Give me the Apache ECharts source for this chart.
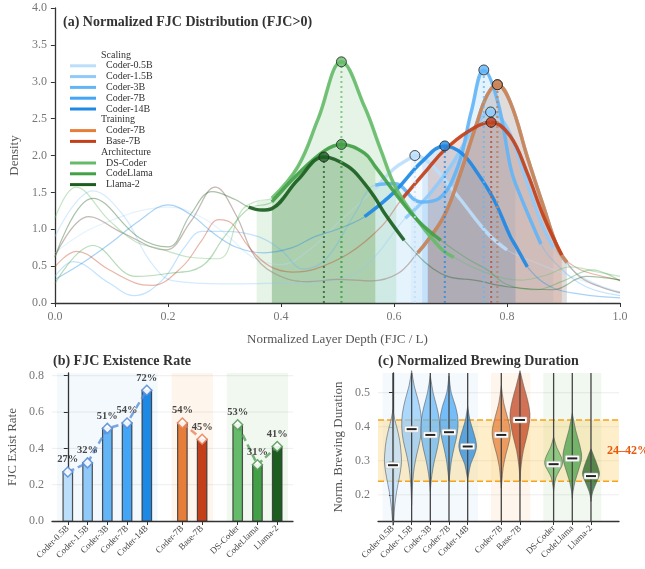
<!DOCTYPE html>
<html><head><meta charset="utf-8">
<script src="https://cdn.jsdelivr.net/npm/echarts@6/dist/echarts.min.js"></script>
<style>html,body{margin:0;padding:0;background:#fff}#chart{width:645px;height:569px}</style>
</head><body><div id="chart"></div>
<script>
// ================= DATA =================
const modelNames = ['Coder-0.5B','Coder-1.5B','Coder-3B','Coder-7B','Coder-14B','Coder-7B','Base-7B','DS-Coder','CodeLlama','Llama-2'];
const groupHeaders = ['Scaling','Training','Architecture'];
const groupOf = [0,0,0,0,0,1,1,2,2,2];

// KDE of normalized FJC depth, key points [x, density]
const kdeCoder05 = [[0,0.68],[0.05,0.95],[0.1,1.12],[0.15,1.25],[0.2,1.3],[0.25,1.2],[0.3,0.95],[0.35,0.62],[0.4,0.52],[0.45,0.72],[0.5,1.08],[0.567,1.55],[0.6,1.82],[0.63,1.97],[0.637,2.0],[0.65,1.97],[0.671,1.84],[0.718,1.4],[0.765,0.95],[0.8,0.72],[0.853,0.54],[0.92,0.34],[1,0.13]];
const kdeCoder15 = [[0,0.9],[0.067,1.52],[0.12,1.2],[0.17,0.55],[0.21,0.3],[0.3,0.26],[0.4,0.27],[0.5,0.32],[0.55,0.5],[0.62,1.15],[0.66,1.45],[0.7,1.85],[0.74,2.35],[0.771,2.59],[0.8,2.38],[0.83,1.75],[0.86,1.1],[0.882,0.75],[0.92,0.42],[0.96,0.25],[1,0.15]];
const kdeCoder3 = [[0,0.36],[0.032,0.56],[0.096,0.27],[0.14,0.1],[0.19,0.31],[0.23,0.76],[0.26,0.97],[0.3,0.97],[0.36,0.9],[0.4,0.72],[0.44,0.46],[0.48,0.6],[0.53,1.2],[0.567,1.6],[0.6,1.62],[0.648,1.37],[0.68,1.42],[0.713,1.85],[0.737,2.6],[0.759,3.16],[0.783,2.75],[0.806,1.85],[0.815,1.62],[0.86,0.8],[0.894,0.48],[0.94,0.22],[1,0.1]];
const kdeCoder7 = [[0,0.63],[0.06,1.17],[0.12,0.95],[0.196,0.72],[0.24,1.1],[0.284,1.57],[0.32,1.2],[0.355,0.62],[0.4,0.36],[0.45,0.29],[0.5,0.32],[0.56,0.3],[0.607,0.4],[0.642,0.68],[0.66,0.85],[0.69,1.2],[0.715,1.7],[0.745,2.4],[0.765,2.82],[0.783,2.96],[0.806,2.72],[0.836,1.98],[0.865,1.3],[0.889,0.76],[0.906,0.55],[0.93,0.35],[0.965,0.22],[1,0.14]];
const kdeCoder14 = [[0,0.32],[0.05,0.55],[0.1,0.82],[0.15,1.12],[0.2,1.33],[0.24,1.2],[0.28,0.95],[0.32,0.76],[0.37,0.68],[0.42,0.75],[0.46,0.9],[0.5,1.0],[0.548,1.17],[0.6,1.5],[0.65,1.92],[0.69,2.13],[0.72,2.03],[0.748,1.76],[0.777,1.4],[0.806,0.9],[0.815,0.78],[0.836,0.49],[0.877,0.22],[0.93,0.12],[1,0.07]];
const kdeBase7 = [[0,0.49],[0.038,0.7],[0.096,0.45],[0.143,0.27],[0.172,0.24],[0.225,0.49],[0.26,0.85],[0.29,1.13],[0.313,1.08],[0.343,0.76],[0.38,0.5],[0.42,0.42],[0.46,0.46],[0.52,0.67],[0.577,1.03],[0.613,1.4],[0.66,1.82],[0.689,2.07],[0.73,2.32],[0.772,2.45],[0.806,2.26],[0.836,1.76],[0.865,1.17],[0.897,0.65],[0.93,0.45],[0.96,0.38],[1,0.31]];
const kdeDSCoder = [[0,1.15],[0.037,1.57],[0.096,1.12],[0.143,0.83],[0.184,0.74],[0.24,0.62],[0.29,0.6],[0.33,1.25],[0.357,1.38],[0.384,1.42],[0.43,1.85],[0.466,2.5],[0.507,3.27],[0.548,2.66],[0.577,2.07],[0.604,1.55],[0.642,1.12],[0.683,0.74],[0.706,0.62],[0.76,0.42],[0.824,0.31],[0.87,0.38],[0.912,0.49],[0.96,0.42],[1,0.36]];
const kdeCodeLlama = [[0,0.26],[0.067,0.78],[0.143,0.36],[0.2,0.4],[0.26,0.5],[0.3,0.9],[0.343,1.28],[0.384,1.37],[0.43,1.75],[0.478,2.07],[0.507,2.15],[0.548,2.03],[0.567,1.85],[0.607,1.44],[0.642,1.12],[0.683,0.85],[0.73,0.6],[0.765,0.45],[0.8,0.25],[0.85,0.18],[0.9,0.3],[0.95,0.45],[1,0.3]];
const kdeLlama2 = [[0,0.62],[0.067,1.42],[0.15,0.88],[0.2,0.76],[0.24,1.2],[0.278,1.51],[0.32,1.4],[0.343,1.3],[0.366,1.26],[0.384,1.28],[0.43,1.67],[0.476,1.98],[0.519,1.85],[0.548,1.62],[0.567,1.42],[0.583,1.22],[0.618,0.85],[0.683,0.4],[0.75,0.3],[0.8,0.22],[0.882,0.18],[0.94,0.36],[1,0.31]];
const kdeCurves = [kdeCoder05,kdeCoder15,kdeCoder3,kdeCoder7,kdeCoder14,kdeCoder7,kdeBase7,kdeDSCoder,kdeCodeLlama,kdeLlama2];
// main (bold) range and shaded range of each curve
const mainRange  = [[0.567,0.8],[0.62,0.882],[0.567,0.86],[0.642,0.906],[0.548,0.836],[0.642,0.906],[0.613,0.897],[0.384,0.706],[0.384,0.683],[0.343,0.618]];
const shadeRange = [[0.63,0.65],[0.66,0.882],[0.567,0.815],[0.66,0.906],[0.65,0.815],[0.66,0.906],[0.66,0.897],[0.357,0.604],[0.384,0.567],[0.384,0.567]];

// (b) existence rate
const existRate = [0.27,0.32,0.51,0.54,0.72,0.54,0.45,0.53,0.31,0.41];
const slotPos = [0,1,2,3,4,5.8,6.8,8.6,9.6,10.6];

// (c) brewing duration violins: [duration, half-width] from top to bottom
const durationMedian = [0.287,0.393,0.376,0.384,0.342,0.376,0.42,0.29,0.307,0.255];
const durationMin = [0.05,0.05,0.05,0.05,0.05,0.05,0.05,0.05,0.05,0.05];
const durationMax = [0.65,0.65,0.65,0.65,0.65,0.65,0.65,0.65,0.65,0.65];
const violinProfiles = [
  [[0.45,0],[0.42,0.1],[0.40,0.2],[0.36,0.36],[0.32,0.44],[0.29,0.45],[0.25,0.34],[0.21,0.2],[0.17,0.1],[0.13,0.03],[0.11,0]],
  [[0.565,0],[0.52,0.14],[0.48,0.34],[0.44,0.49],[0.40,0.53],[0.36,0.45],[0.32,0.28],[0.28,0.14],[0.24,0.06],[0.2,0.02],[0.17,0]],
  [[0.55,0],[0.5,0.15],[0.46,0.34],[0.42,0.48],[0.38,0.5],[0.34,0.39],[0.3,0.22],[0.26,0.09],[0.23,0.03],[0.21,0]],
  [[0.55,0],[0.5,0.12],[0.46,0.35],[0.42,0.48],[0.38,0.44],[0.34,0.28],[0.3,0.13],[0.26,0.04],[0.24,0]],
  [[0.46,0],[0.42,0.12],[0.39,0.28],[0.36,0.43],[0.34,0.47],[0.317,0.36],[0.29,0.16],[0.26,0.05],[0.245,0]],
  [[0.52,0],[0.47,0.13],[0.43,0.32],[0.39,0.48],[0.36,0.44],[0.32,0.25],[0.28,0.1],[0.24,0.03],[0.22,0]],
  [[0.565,0],[0.52,0.2],[0.48,0.4],[0.44,0.53],[0.41,0.5],[0.37,0.36],[0.33,0.18],[0.29,0.07],[0.26,0.02],[0.24,0]],
  [[0.37,0],[0.34,0.16],[0.31,0.42],[0.29,0.47],[0.27,0.3],[0.25,0.12],[0.22,0.02],[0.21,0]],
  [[0.44,0],[0.39,0.18],[0.35,0.38],[0.31,0.5],[0.27,0.32],[0.24,0.15],[0.21,0.04],[0.19,0]],
  [[0.335,0],[0.31,0.18],[0.28,0.38],[0.26,0.45],[0.24,0.32],[0.21,0.1],[0.19,0.02],[0.18,0]]
];
const durationBand = [0.24,0.42];
const durationBandLabel = '24–42%';
const rateTicks = [0,0.2,0.4,0.6,0.8];
const durationTicks = [0.2,0.3,0.4,0.5];

// ================= STYLE =================
const FONT = '"Liberation Serif","Times New Roman","DejaVu Serif",serif';
const COLORS = ['#bbdefb','#90caf9','#64b5f6','#42a5f5','#1e88e5','#e67e3a','#c23f1a','#66bb6a','#43a047','#1b5e20'];
const THICK_OPACITY = [0.9,0.9,0.9,0.75,0.9,0.8,0.9,0.9,0.9,0.9];
const GROUP_BG = ['rgba(215,232,250,0.28)','rgba(252,220,185,0.28)','rgba(205,230,200,0.28)'];
const GROUP_LINE = ['#5b8fd8','#e8845c','#5a9e5c'];
const AX = '#333', TL = '#777';
const BAR_W = 0.48;
const RATE_MAX = 0.815, DUR_MIN = 0.123, DUR_MAX = 0.558;
const BX = [-0.8, 11.4], VX = [-0.8, 12.1];

const chart = echarts.init(document.getElementById('chart'), null, {renderer:'canvas'});
const nameAt = v => { const k = slotPos.findIndex(p => Math.abs(p - v) < 1e-6); return k >= 0 ? modelNames[k] : ''; };

function axisCommon(){
  return {
    axisLine:{show:true, lineStyle:{color:AX, width:1.3}},
    axisTick:{show:true, length:4, lineStyle:{color:AX, width:1}},
    splitLine:{show:false},
  };
}
const series = [];

// ---- (a) KDE curves
kdeCurves.forEach((curve, i) => {
  const col = COLORS[i];
  const inR = (r) => curve.filter(p => p[0] >= r[0] - 1e-9 && p[0] <= r[1] + 1e-9);
  const peak = curve.reduce((a, b) => (b[1] > a[1] ? b : a));
  series.push({type:'line', xAxisIndex:0, yAxisIndex:0, data:inR(shadeRange[i]), smooth:0.4, symbol:'none',
    lineStyle:{width:0}, areaStyle:{color:col, opacity:0.17}, z:1, silent:true});
  series.push({type:'line', xAxisIndex:0, yAxisIndex:0, data:curve, smooth:0.4, symbol:'none',
    lineStyle:{color:col, width:1.2, opacity:0.38}, z:2, silent:true});
  series.push({type:'line', xAxisIndex:0, yAxisIndex:0, data:inR(mainRange[i]), smooth:0.4, symbol:'none',
    lineStyle:{color:col, width:3.5, opacity:THICK_OPACITY[i]}, z:3, silent:true});
  series.push({type:'line', xAxisIndex:0, yAxisIndex:0, data:[[peak[0],0],[peak[0],peak[1]]], symbol:'none',
    lineStyle:{color:col, width:2, type:[2,3], opacity:0.75}, z:4, silent:true});
  series.push({type:'scatter', xAxisIndex:0, yAxisIndex:0, data:[peak], symbolSize:10,
    itemStyle:{color:col, borderColor:'#222', borderWidth:1}, z:5, silent:true});
});

// group background bands (b) and (c)
function groupBands(ai, yMin, yMax){
  return {type:'custom', xAxisIndex:ai, yAxisIndex:ai, silent:true, z:0, data:[[0],[1],[2]],
    renderItem(params, api){
      const g = api.value(0);
      const ps = slotPos.filter((_, k) => groupOf[k] === g);
      const p0 = api.coord([Math.min(...ps) - 0.55, yMax]);
      const p1 = api.coord([Math.max(...ps) + 0.55, yMin]);
      return {type:'rect', shape:{x:p0[0], y:p0[1], width:p1[0]-p0[0], height:p1[1]-p0[1]}, style:{fill:GROUP_BG[g]}};
    }};
}
function gridLines(ai, ticks, xr){
  return {type:'custom', xAxisIndex:ai, yAxisIndex:ai, silent:true, z:1, data:ticks.map(t => [t]),
    renderItem(params, api){
      const v = api.value(0);
      const a = api.coord([xr[0], v]), b = api.coord([xr[1], v]);
      return {type:'line', shape:{x1:a[0], y1:a[1], x2:b[0], y2:b[1]}, style:{stroke:'rgba(0,0,0,0.07)', lineWidth:1}};
    }};
}
series.push(groupBands(1, 0, RATE_MAX));
series.push(gridLines(1, rateTicks.filter(t => t > 0), BX));
// bars
series.push({type:'custom', xAxisIndex:1, yAxisIndex:1, silent:true, z:2,
  data: existRate.map((v, k) => [slotPos[k], v, k]),
  renderItem(params, api){
    const x = api.value(0), v = api.value(1), k = api.value(2);
    const p0 = api.coord([x - BAR_W/2, v]), p1 = api.coord([x + BAR_W/2, 0]);
    return {type:'rect', shape:{x:p0[0], y:p0[1], width:p1[0]-p0[0], height:p1[1]-p0[1]},
      style:{fill:COLORS[k], stroke:'rgba(50,50,50,0.85)', lineWidth:1.2}};
  }});
// dashed trend lines + labels
[0,1,2].forEach(g => {
  const idx = slotPos.map((_, k) => k).filter(k => groupOf[k] === g);
  series.push({type:'line', xAxisIndex:1, yAxisIndex:1, z:3, silent:true,
    data: idx.map(k => [slotPos[k], existRate[k]]),
    symbol:'diamond', symbolSize:10, showAllSymbol:true,
    lineStyle:{color:GROUP_LINE[g], width:2.5, type:[7,4], opacity:0.8},
    itemStyle:{color:'#fff', borderColor:GROUP_LINE[g], borderWidth:1.5, opacity:0.9},
    label:{show:true, position:'top', distance:1, formatter:p => Math.round(p.value[1]*100) + '%',
      fontFamily:FONT, fontWeight:'bold', fontSize:10.5, color:'#333'}});
});

// (c) violins
series.push(groupBands(2, DUR_MIN, DUR_MAX));
series.push(gridLines(2, durationTicks, VX));
series.push({type:'custom', xAxisIndex:2, yAxisIndex:2, silent:true, z:2, data:[[0]],
  renderItem(params, api){
    const a = api.coord([VX[0], durationBand[1]]), b = api.coord([VX[1], durationBand[0]]);
    const m = api.coord([VX[1], (durationBand[0] + durationBand[1]) / 2]);
    return {type:'group', children:[
      {type:'rect', shape:{x:a[0], y:a[1], width:b[0]-a[0], height:b[1]-a[1]}, style:{fill:'rgba(251,192,45,0.25)'}},
      {type:'line', shape:{x1:a[0], y1:a[1], x2:b[0], y2:a[1]}, style:{stroke:'#f5a31a', lineWidth:1.5, lineDash:[6,3]}},
      {type:'line', shape:{x1:a[0], y1:b[1], x2:b[0], y2:b[1]}, style:{stroke:'#f5a31a', lineWidth:1.5, lineDash:[6,3]}},
      {type:'text', x:m[0] - 12, y:m[1], style:{text:durationBandLabel, font:'bold 12px ' + FONT, fill:'#e8590c', verticalAlign:'middle', align:'left'}}
    ]};
  }});
series.push({type:'custom', xAxisIndex:2, yAxisIndex:2, silent:true, z:3,
  data: slotPos.map((p, k) => [p, k]),
  renderItem(params, api){
    const x = api.value(0), k = api.value(1);
    const prof = violinProfiles[k];
    const right = prof.map(([y, w]) => api.coord([x + w, y]));
    const left = prof.slice().reverse().map(([y, w]) => api.coord([x - w, y]));
    const lo = api.coord([x, Math.max(durationMin[k], DUR_MIN)]);
    const hi = api.coord([x, Math.min(durationMax[k], DUR_MAX)]);
    const md = api.coord([x, durationMedian[k]]);
    return {type:'group', children:[
      {type:'polygon', shape:{points:right.concat(left), smooth:0.35}, style:{fill:COLORS[k], opacity:0.72, stroke:'#555', lineWidth:0.8}},
      {type:'line', shape:{x1:lo[0], y1:lo[1], x2:hi[0], y2:hi[1]}, style:{stroke:'#444', lineWidth:1.3}},
      {type:'rect', shape:{x:md[0]-7, y:md[1]-3, width:14, height:6, r:1}, style:{fill:'#fff', stroke:'#bbb', lineWidth:0.6}},
      {type:'line', shape:{x1:md[0]-5, y1:md[1], x2:md[0]+5, y2:md[1]}, style:{stroke:'#222', lineWidth:2}}
    ]};
  }});

// legend drawn as graphic (grouped with headers)
const graphics = [];
let row = 0;
const rowY = r => 55 + r * 10.8;
groupHeaders.forEach((h, g) => {
  graphics.push({type:'text', x:101, y:rowY(row), style:{text:h, font:'10px ' + FONT, fill:'#333', verticalAlign:'middle'}});
  row++;
  modelNames.forEach((n, i) => {
    if (groupOf[i] !== g) return;
    const yy = rowY(row);
    graphics.push({type:'line', shape:{x1:70, y1:yy, x2:96, y2:yy}, style:{stroke:COLORS[i], lineWidth:3}});
    graphics.push({type:'text', x:106, y:yy, style:{text:n, font:'10px ' + FONT, fill:'#333', verticalAlign:'middle'}});
    row++;
  });
});

const titleStyle = {fontFamily:FONT, fontWeight:'bold', color:'#333'};
const option = {
  animation:false,
  backgroundColor:'#fff',
  title:[
    {text:'(a) Normalized FJC Distribution (FJC>0)', left:63, top:15, padding:0, textStyle:Object.assign({fontSize:14}, titleStyle)},
    {text:'(b) FJC Existence Rate', left:53, top:354, padding:0, textStyle:Object.assign({fontSize:14}, titleStyle)},
    {text:'(c) Normalized Brewing Duration', left:378, top:354, padding:0, textStyle:Object.assign({fontSize:14}, titleStyle)}
  ],
  grid:[
    {left:52, top:8, width:568, height:295},
    {left:52, top:373, width:241, height:148},
    {left:378, top:373, width:241, height:148}
  ],
  xAxis:[
    Object.assign(axisCommon(), {type:'value', gridIndex:0, min:0, max:1, interval:0.2,
      name:'Normalized Layer Depth (FJC / L)', nameLocation:'middle', nameGap:30,
      nameTextStyle:{fontFamily:FONT, fontSize:13, color:'#555'},
      axisLabel:{fontFamily:FONT, fontSize:12, color:TL, formatter:v => v.toFixed(1)}}),
    Object.assign(axisCommon(), {type:'value', gridIndex:1, min:BX[0], max:BX[1],
      axisTick:{show:true, length:4, customValues:slotPos, lineStyle:{color:AX}},
      axisLabel:{customValues:slotPos, rotate:45, fontFamily:FONT, fontSize:9, color:'#444', margin:6, formatter:nameAt}}),
    Object.assign(axisCommon(), {type:'value', gridIndex:2, min:VX[0], max:VX[1],
      axisTick:{show:true, length:4, customValues:slotPos, lineStyle:{color:AX}},
      axisLabel:{customValues:slotPos, rotate:45, fontFamily:FONT, fontSize:9, color:'#444', margin:6, formatter:nameAt}})
  ],
  yAxis:[
    Object.assign(axisCommon(), {type:'value', gridIndex:0, min:0, max:4, interval:0.5,
      name:'Density', nameLocation:'middle', nameGap:31, nameTextStyle:{fontFamily:FONT, fontSize:13, color:'#555'},
      axisLabel:{fontFamily:FONT, fontSize:12, color:TL, formatter:v => v.toFixed(1)}}),
    Object.assign(axisCommon(), {type:'value', gridIndex:1, min:0, max:RATE_MAX,
      axisTick:{show:true, length:4, customValues:rateTicks, lineStyle:{color:AX}},
      name:'FJC Exist Rate', nameLocation:'middle', nameGap:33, nameTextStyle:{fontFamily:FONT, fontSize:13, color:'#555'},
      axisLabel:{customValues:rateTicks, fontFamily:FONT, fontSize:12, color:TL, formatter:v => v.toFixed(1)}}),
    Object.assign(axisCommon(), {type:'value', gridIndex:2, min:DUR_MIN, max:DUR_MAX,
      axisTick:{show:true, length:4, customValues:durationTicks, lineStyle:{color:AX}},
      name:'Norm. Brewing Duration', nameLocation:'middle', nameGap:33, nameTextStyle:{fontFamily:FONT, fontSize:13, color:'#555'},
      axisLabel:{customValues:durationTicks, fontFamily:FONT, fontSize:12, color:TL, formatter:v => v.toFixed(1)}})
  ],
  graphic:graphics,
  series:series
};
chart.setOption(option);
</script></body></html>
